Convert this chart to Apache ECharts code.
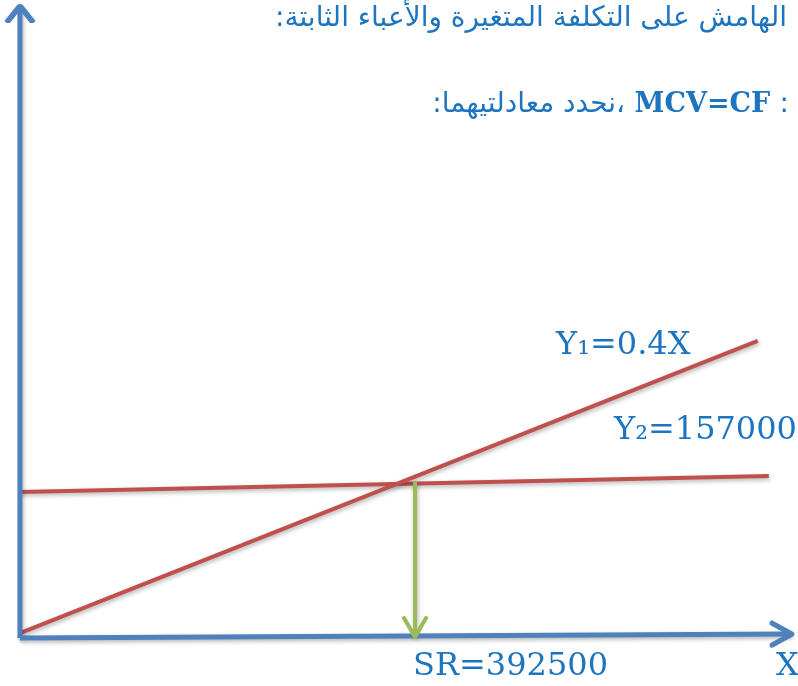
<!DOCTYPE html>
<html>
<head>
<meta charset="utf-8">
<script src="https://cdn.jsdelivr.net/npm/echarts@6/dist/echarts.min.js"></script>
<style>
  html, body { margin: 0; padding: 0; background: #fff; }
  #chart { width: 798px; height: 686px; }
</style>
</head>
<body>
<div id="chart"></div>
<script>
// points, in the same units as SR / CF
const axisX = [[0, 0], [767000, 4000]]
const axisY = [[0, 0], [0, 640000]]
const lineY1 = [[0, 5000], [733000, 300800]]
const lineY2 = [[0, 147900], [744000, 164100]]
const srDrop = [[392500, 158000], [392500, 1000]]

const titleTop = 'الهامش على التكلفة المتغيرة والأعباء الثابتة:'
const titleAr = '،نحدد معادلتيهما:'
const titleEq = 'MCV=CF'
const labelY1 = 'Y₁=0.4X'
const labelY2 = 'Y₂=157000'
const labelSR = 'SR=392500'
const labelX = 'X'

const blue = '#4f81bd'
const red = '#c0504d'
const green = '#9bbb59'
const textBlue = '#1d74bf'
const serif = '"DejaVu Serif", "Liberation Serif", serif'
const arabic = '"DejaVu Sans", sans-serif'

// open chevron heads, tip placed on the last point
const heads = {
  right: { path: 'path://M0,0L20,11L0,22', size: [20, 22], offset: [-10, 0] },
  up: { path: 'path://M0,15L12,0L24,15', size: [24, 15], offset: [0, 7.5] },
  down: { path: 'path://M0,0L11,19L22,0', size: [22, 19], offset: [0, -9.5] }
}

// wrap in RTL embedding so the canvas lays out the arabic right to left
const rtl = s => '\u202B' + s + '\u202C'

function makeLine(data, color, width, head) {
  const pts = data.map(p => ({ value: p, symbol: 'none' }))
  if (head) {
    pts[pts.length - 1] = {
      value: data[data.length - 1],
      symbol: head.path,
      symbolSize: head.size,
      symbolOffset: head.offset
    }
  }
  return {
    type: 'line',
    data: pts,
    clip: false,
    silent: true,
    showAllSymbol: true,
    lineStyle: {
      color: color,
      width: width,
      shadowColor: 'rgba(0,0,0,0.3)',
      shadowBlur: 4,
      shadowOffsetX: 1,
      shadowOffsetY: 2
    },
    itemStyle: {
      color: 'rgba(0,0,0,0)',
      borderColor: color,
      borderWidth: width,
      borderJoin: 'round',
      borderCap: 'round'
    }
  }
}

const chart = echarts.init(document.getElementById('chart'))
chart.setOption({
  animation: false,
  backgroundColor: '#fff',
  grid: { left: 20, top: 6, right: 0, height: 632 },
  xAxis: { type: 'value', min: 0, max: 773000, show: false },
  yAxis: { type: 'value', min: 0, max: 640000, show: false },
  series: [
    makeLine(lineY2, red, 4),
    makeLine(lineY1, red, 4),
    makeLine(srDrop, green, 4, heads.down),
    makeLine(axisY, blue, 5, heads.up),
    makeLine(axisX, blue, 5, heads.right)
  ],
  graphic: [
    {
      type: 'text', right: 11, top: 5,
      style: { text: rtl(titleTop), font: '28px ' + arabic, fill: textBlue }
    },
    {
      type: 'text', right: 9, top: 91,
      style: {
        text: '{ar|' + rtl(titleAr) + '}{eq|\u00A0' + titleEq + '\u00A0}{ar|:}',
        rich: {
          ar: { font: '28px ' + arabic, fill: textBlue },
          eq: { font: 'bold 27px ' + serif, fill: textBlue }
        }
      }
    },
    {
      type: 'text', x: 556, y: 346,
      style: { text: labelY1, font: '32px ' + serif, fill: textBlue, verticalAlign: 'middle' }
    },
    {
      type: 'text', x: 614, y: 431,
      style: { text: labelY2, font: '32px ' + serif, fill: textBlue, verticalAlign: 'middle' }
    },
    {
      type: 'text', x: 413, y: 667,
      style: { text: labelSR, font: '32px ' + serif, fill: textBlue, verticalAlign: 'middle' }
    },
    {
      type: 'text', x: 776, y: 667,
      style: { text: labelX, font: '32px ' + serif, fill: textBlue, verticalAlign: 'middle' }
    }
  ]
})
</script>
</body>
</html>
